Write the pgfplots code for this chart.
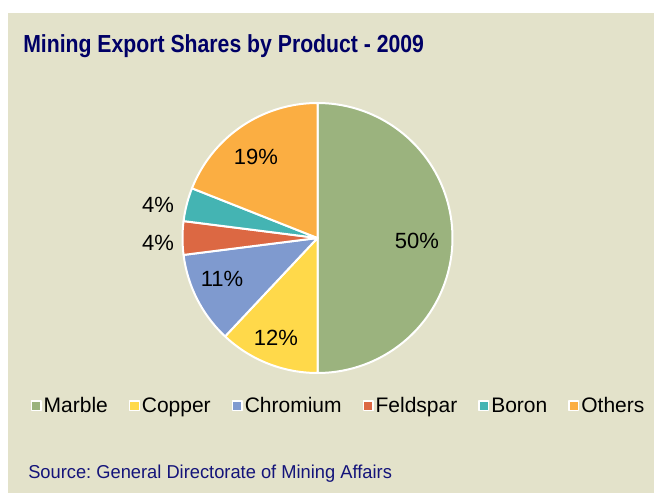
\documentclass[border=0pt]{standalone}
\usepackage{pgfplots}
\pgfplotsset{compat=1.18}
\usepackage{pgfplotstable}
\usepackage{fontspec}
\setmainfont{Liberation Sans}
\frenchspacing
\definecolor{bg}{HTML}{E3E2CA}
\definecolor{titleblue}{HTML}{000066}
\definecolor{srcblue}{HTML}{14147A}
\definecolor{cMarble}{HTML}{9BB37E}
\definecolor{cCopper}{HTML}{FFD94A}
\definecolor{cChromium}{HTML}{7F9ACF}
\definecolor{cFeldspar}{HTML}{DC6843}
\definecolor{cBoron}{HTML}{44B4B3}
\definecolor{cOthers}{HTML}{FBAE42}

\pgfplotstableread{
name value
Marble 50
Copper 12
Chromium 11
Feldspar 4
Boron 4
Others 19
}\shares

\begin{document}
\begin{tikzpicture}[x=0.75pt,y=0.75pt]
\pgfplotstablegetelem{0}{value}\of\shares \let\vA\pgfplotsretval
\pgfplotstablegetelem{1}{value}\of\shares \let\vB\pgfplotsretval
\pgfplotstablegetelem{2}{value}\of\shares \let\vC\pgfplotsretval
\pgfplotstablegetelem{3}{value}\of\shares \let\vD\pgfplotsretval
\pgfplotstablegetelem{4}{value}\of\shares \let\vE\pgfplotsretval
\pgfplotstablegetelem{5}{value}\of\shares \let\vF\pgfplotsretval
\pgfmathsetmacro\aA{0}
\pgfmathsetmacro\aB{\aA+\vA*3.6}
\pgfmathsetmacro\aC{\aB+\vB*3.6}
\pgfmathsetmacro\aD{\aC+\vC*3.6}
\pgfmathsetmacro\aE{\aD+\vD*3.6}
\pgfmathsetmacro\aF{\aE+\vE*3.6}
\pgfmathsetmacro\aG{\aF+\vF*3.6}
\fill[white] (0,0) rectangle (654,493);
\fill[bg] (8,0) rectangle (654,480);
\node[anchor=base west, text=titleblue, inner sep=0] at (23,440) {\scalebox{0.86}[1]{\fontsize{18.5}{22}\selectfont\bfseries Mining Export Shares by Product - 2009}};
\node[anchor=base west, text=srcblue, inner sep=0] at (28,14) {\scalebox{0.98}[1]{\fontsize{14}{16}\selectfont Source: General Directorate of Mining Affairs}};
\begin{axis}[
  at={(238.125pt,191.25pt)}, anchor=center,
  x=0.75pt, y=0.75pt,
  xmin=-135, xmax=135, ymin=-135, ymax=135,
  hide axis, clip=false,
  legend columns=6,
  legend style={at={(0.578,-0.122)}, anchor=center, draw=none, fill=none,
    font=\fontsize{15.75}{18}\selectfont,
    nodes={inner sep=1.5pt},
    /tikz/every even column/.append style={column sep=14.3pt}},
  legend image code/.code={\draw[#1, line width=1pt] (0pt,-3.6pt) rectangle (7.2pt,3.6pt);},
  every axis plot/.append style={draw=white, line width=1.5pt, line join=round, samples=90},
]
\addplot[fill=cMarble, domain=\aA:\aB] ({135*sin(x)},{135*cos(x)}) -- (axis cs:0,0) -- cycle;
\addlegendentry{Marble}
\addplot[fill=cCopper, domain=\aB:\aC] ({135*sin(x)},{135*cos(x)}) -- (axis cs:0,0) -- cycle;
\addlegendentry{Copper}
\addplot[fill=cChromium, domain=\aC:\aD] ({135*sin(x)},{135*cos(x)}) -- (axis cs:0,0) -- cycle;
\addlegendentry{Chromium}
\addplot[fill=cFeldspar, domain=\aD:\aE] ({135*sin(x)},{135*cos(x)}) -- (axis cs:0,0) -- cycle;
\addlegendentry{Feldspar}
\addplot[fill=cBoron, domain=\aE:\aF] ({135*sin(x)},{135*cos(x)}) -- (axis cs:0,0) -- cycle;
\addlegendentry{Boron}
\addplot[fill=cOthers, domain=\aF:\aG] ({135*sin(x)},{135*cos(x)}) -- (axis cs:0,0) -- cycle;
\addlegendentry{Others}
\begin{scope}[every node/.style={font=\fontsize{16.5}{19}\selectfont, inner sep=0}]
\node at (axis cs:99.5,-3) {50\%};
\node at (axis cs:-41.5,-100) {12\%};
\node at (axis cs:-95.5,-41) {11\%};
\node at (axis cs:-159.5,-5) {4\%};
\node at (axis cs:-159.5,33) {4\%};
\node at (axis cs:-61.5,81) {19\%};
\end{scope}
\end{axis}
\pgfresetboundingbox
\useasboundingbox (0,0) rectangle (654,493);
\end{tikzpicture}
\end{document}
